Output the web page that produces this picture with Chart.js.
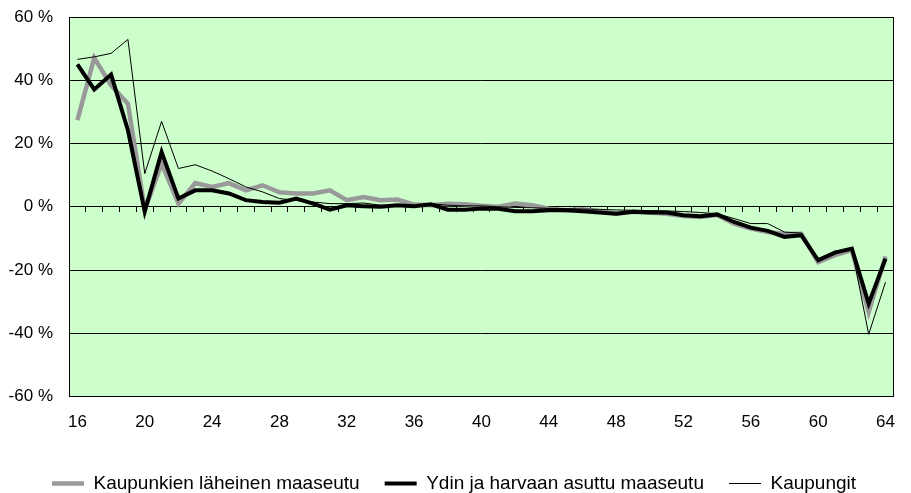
<!DOCTYPE html>
<html>
<head>
<meta charset="utf-8">
<script src="https://cdn.jsdelivr.net/npm/chart.js@4"></script>
<style>
  html, body { margin: 0; padding: 0; background: #ffffff; }
  #wrap { width: 911px; height: 493px; }
</style>
</head>
<body>
<div id="wrap"><canvas id="ageChart" width="911" height="493"></canvas></div>
<script>
  // ikä 16-64
  var ages = [16, 17, 18, 19, 20, 21, 22, 23, 24, 25, 26, 27, 28, 29, 30, 31, 32,
              33, 34, 35, 36, 37, 38, 39, 40, 41, 42, 43, 44, 45, 46, 47, 48, 49,
              50, 51, 52, 53, 54, 55, 56, 57, 58, 59, 60, 61, 62, 63, 64];
  var lahiMaaseutu = [27.4, 47.1, 38.4, 32.6, -1.0, 13.7, 1.0, 7.5, 6.3, 7.5, 5.2, 6.8, 4.6, 4.2, 4.2, 5.2, 2.1,
                      3.1, 2.1, 2.3, 0.7, 0.5, 1.0, 0.8, 0.3, 0.0, 1.0, 0.5, -0.6, -1.1, -0.8, -1.4, -2.2, -1.6,
                      -1.8, -2.2, -2.9, -3.2, -2.6, -5.3, -6.9, -8.0, -8.6, -8.5, -17.5, -15.3, -13.7, -33.3, -15.7];
  var ydinMaaseutu = [45.0, 37.1, 41.8, 24.2, -1.5, 17.3, 2.6, 5.2, 5.2, 4.2, 2.1, 1.5, 1.3, 2.6, 1.0, -0.9, 0.5,
                      0.2, 0.0, 0.5, 0.2, 0.8, -0.9, -0.9, -0.5, -0.6, -1.4, -1.4, -1.1, -1.1, -1.4, -1.8, -2.2, -1.6,
                      -1.8, -1.8, -2.7, -3.0, -2.4, -4.8, -6.6, -7.6, -9.5, -9.0, -16.9, -14.5, -13.2, -30.6, -16.4];
  var kaupungit = [46.6, 47.4, 48.5, 52.9, 10.5, 27.0, 12.1, 13.3, 11.3, 8.9, 6.3, 4.7, 2.6, 2.0, 1.5, 1.0, 1.0,
                   1.2, 0.5, 0.5, 0.2, 1.0, 0.5, 0.3, 0.3, 0.0, -0.2, -0.3, -0.5, -0.6, -0.7, -0.8, -1.0, -1.1,
                   -1.2, -1.3, -1.5, -1.8, -2.2, -3.7, -5.3, -5.3, -8.0, -8.3, -16.4, -14.0, -13.2, -40.3, -23.8];
  var yTicks = [-60, -40, -20, 0, 20, 40, 60];

  Chart.defaults.font.family = "'Liberation Sans', Arial, sans-serif";
  Chart.defaults.font.size = 17;
  Chart.defaults.color = '#000000';

  // vihreä tausta ja kehys
  var plotArea = {
    id: 'plotArea',
    beforeDraw: function(chart) {
      var a = chart.chartArea, c = chart.ctx;
      c.save();
      c.fillStyle = '#CCFFCC';
      c.fillRect(a.left, a.top, a.right - a.left, a.bottom - a.top);
      c.restore();
    },
    afterDraw: function(chart) {
      var a = chart.chartArea, c = chart.ctx;
      c.save();
      c.strokeStyle = '#000000';
      c.lineWidth = 1;
      c.strokeRect(Math.round(a.left) + 0.5, Math.round(a.top) + 0.5,
                   Math.round(a.right - a.left) - 1, Math.round(a.bottom - a.top) - 1);
      c.restore();
    }
  };

  var ctx = document.getElementById('ageChart').getContext('2d');
  var ageChart = new Chart(ctx, {
    type: 'line',
    data: {
      labels: ages,
      datasets: [
        {
          label: 'Kaupunkien läheinen maaseutu',
          data: lahiMaaseutu,
          borderColor: '#999999',
          backgroundColor: '#999999',
          borderWidth: 4.5,
          order: 3
        },
        {
          label: 'Ydin ja harvaan asuttu maaseutu',
          data: ydinMaaseutu,
          borderColor: '#000000',
          backgroundColor: '#000000',
          borderWidth: 4,
          order: 2
        },
        {
          label: 'Kaupungit',
          data: kaupungit,
          borderColor: '#000000',
          backgroundColor: '#000000',
          borderWidth: 1,
          order: 1
        }
      ]
    },
    options: {
      responsive: false,
      animation: false,
      events: [],
      layout: { padding: { left: 0, right: 3, top: 17, bottom: -10 } },
      elements: {
        point: { radius: 0 },
        line: { tension: 0, borderJoinStyle: 'miter' }
      },
      scales: {
        x: {
          type: 'category',
          offset: true,
          grid: { display: false, drawTicks: false },
          border: { display: false },
          ticks: {
            autoSkip: false,
            maxRotation: 0,
            padding: 16,
            callback: function(val, i) {
              return (ages[i] - 16) % 4 === 0 ? String(ages[i]) : '';
            }
          }
        },
        xZero: {
          type: 'category',
          axis: 'x',
          position: { y: 0 },
          offset: true,
          grid: { offset: true, drawOnChartArea: false, drawTicks: true, tickLength: 5, color: '#000000' },
          border: { display: false },
          ticks: { display: false }
        },
        y: {
          min: yTicks[0],
          max: yTicks[yTicks.length - 1],
          grid: { color: '#000000', drawTicks: true, tickLength: 16, tickColor: 'rgba(0,0,0,0)' },
          border: { display: false },
          ticks: {
            stepSize: 20,
            padding: 0,
            callback: function(v) { return v + ' %'; }
          },
          afterFit: function(scale) { scale.width = 69; }
        }
      },
      plugins: {
        legend: {
          position: 'bottom',
          labels: {
            usePointStyle: true,
            pointStyle: 'line',
            pointStyleWidth: 32,
            padding: 25,
            font: { size: 19 },
            color: '#000000',
            sort: function(a, b) { return a.datasetIndex - b.datasetIndex; }
          }
        },
        tooltip: { enabled: false }
      }
    },
    plugins: [plotArea]
  });
</script>
</body>
</html>
